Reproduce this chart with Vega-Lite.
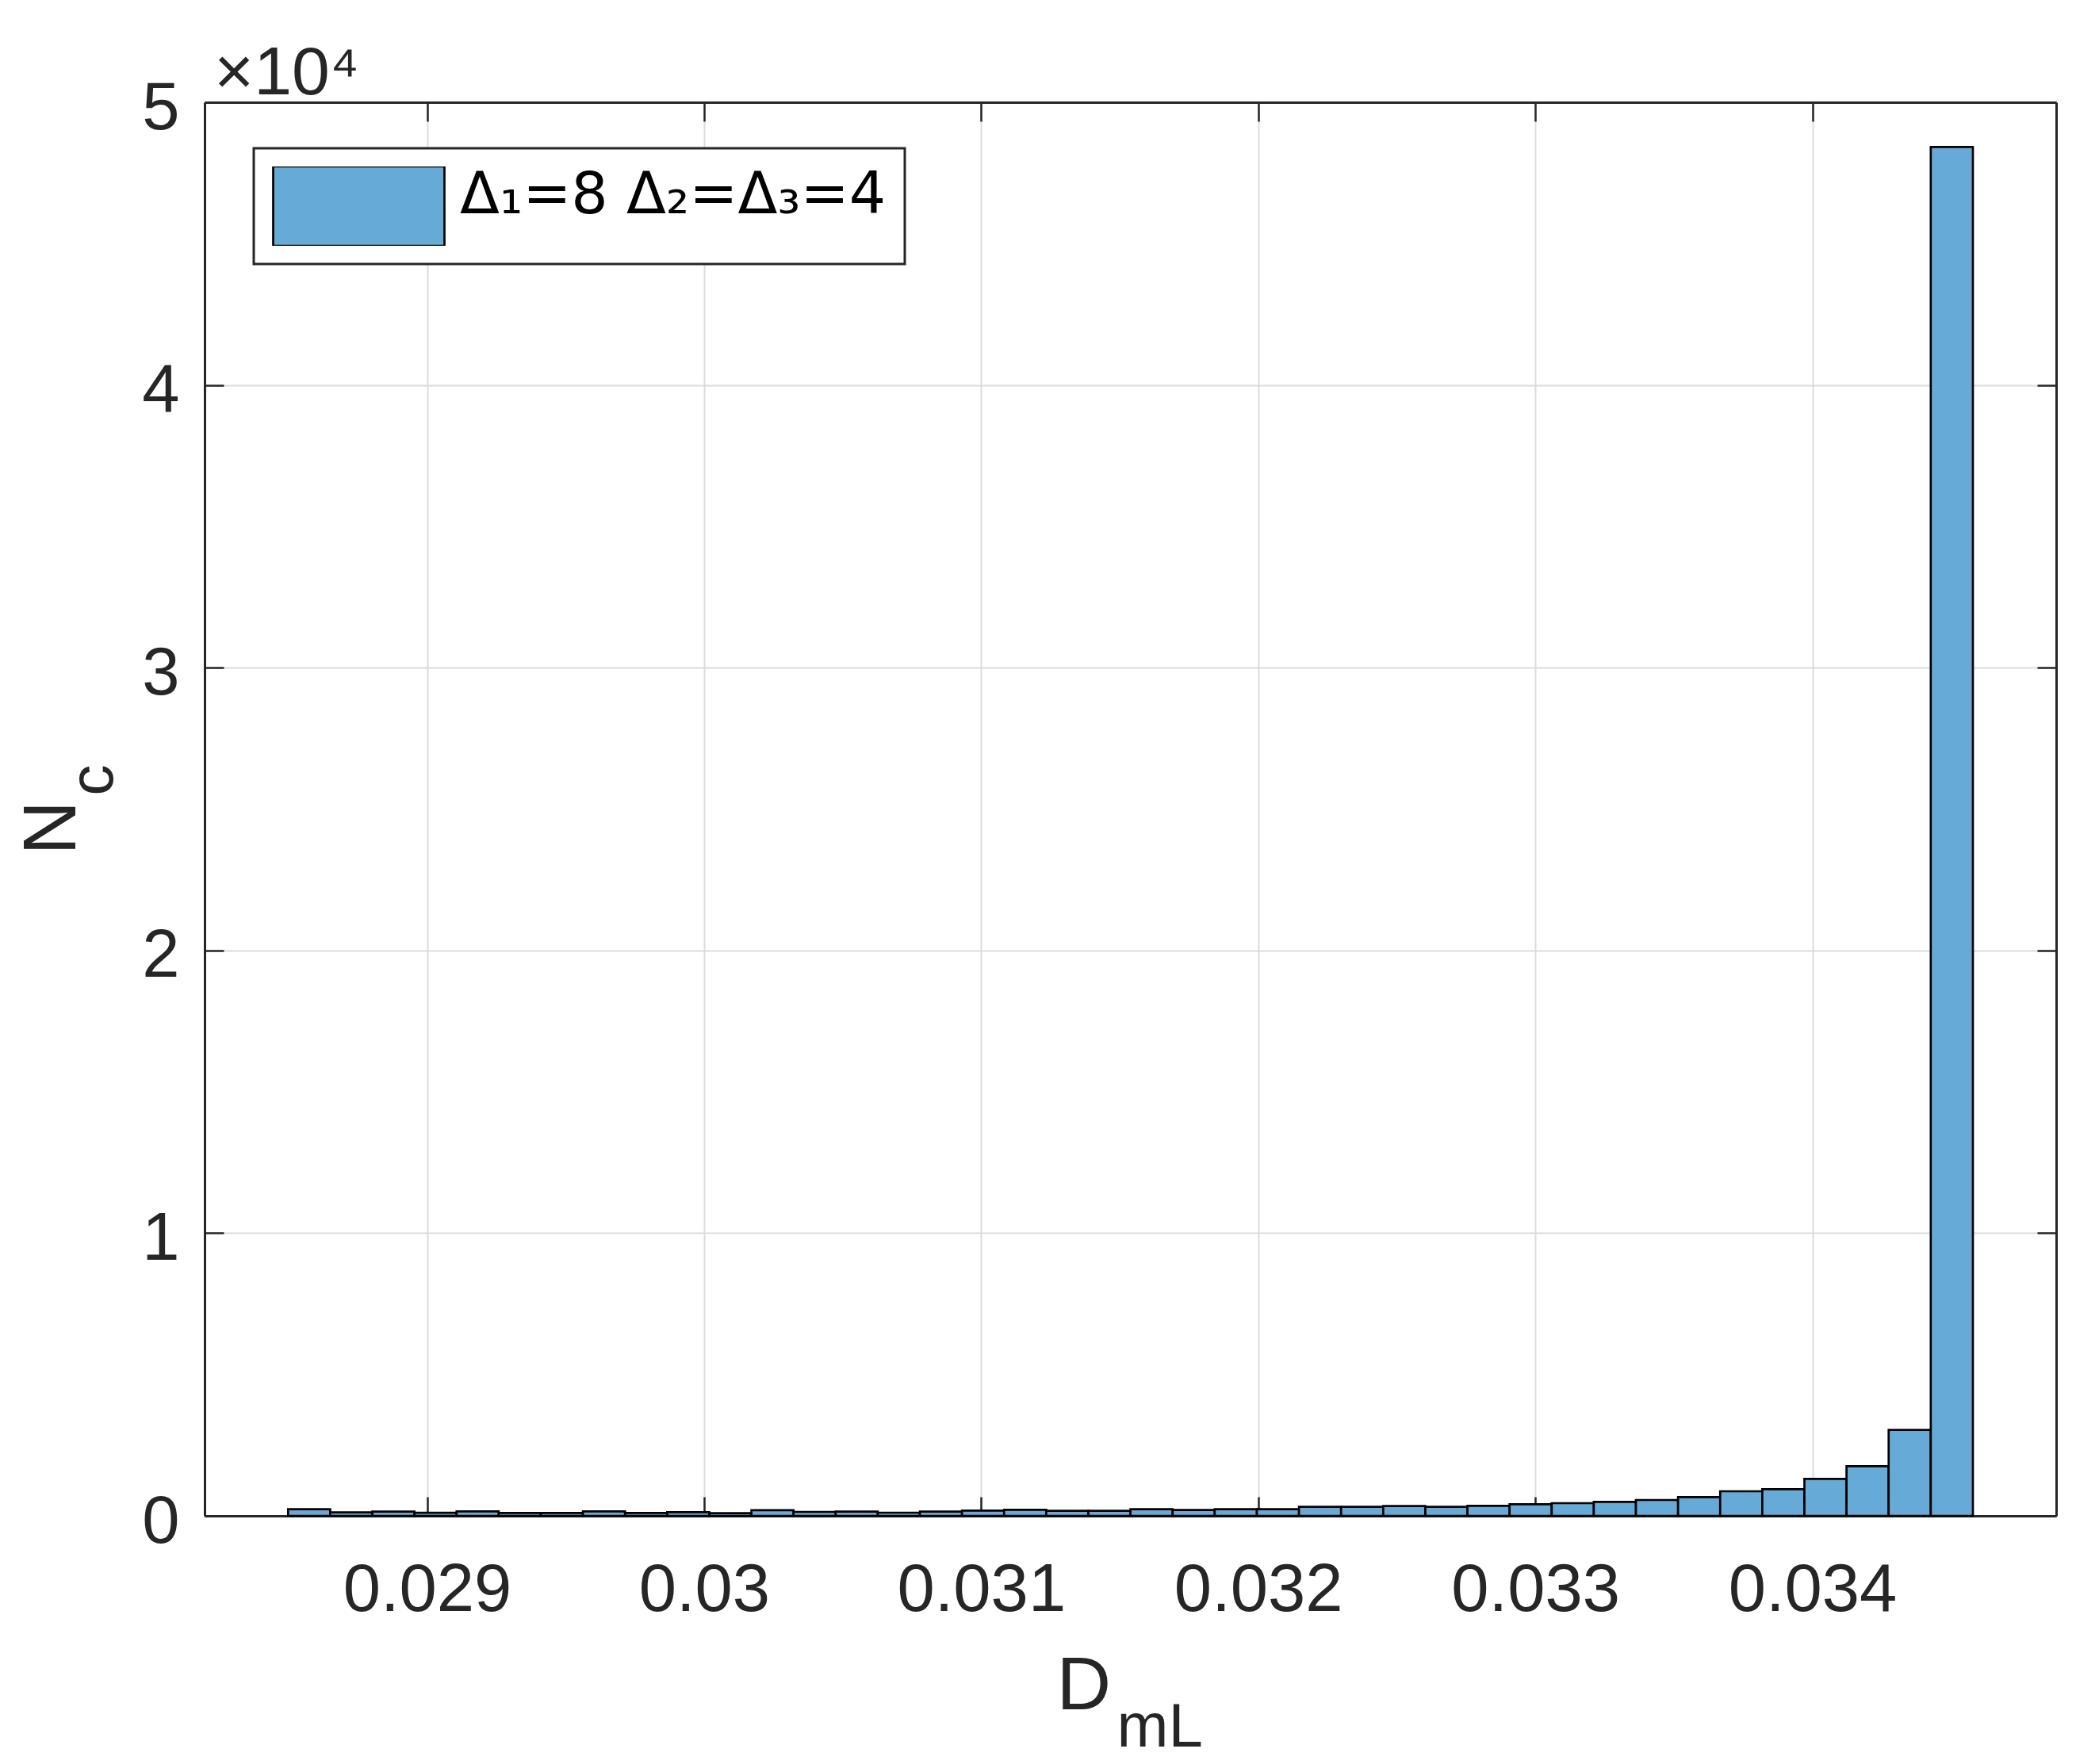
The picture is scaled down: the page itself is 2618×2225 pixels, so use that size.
{
  "$schema": "https://vega.github.io/schema/vega-lite/v6.json",
  "width": 2335,
  "height": 1783,
  "autosize": {"type": "none"},
  "padding": {"left": 258, "top": 129, "right": 25, "bottom": 313},
  "background": "white",
  "title": {"text": "×10⁴", "anchor": "start", "frame": "group", "orient": "top", "font": "Liberation Sans", "fontSize": 86, "fontWeight": "normal", "color": "#262626", "baseline": "alphabetic", "offset": 19, "dx": 12, "dy": 130},
  "config": {"view": {"stroke": null}},
  "data": {"values": [
    {"x0": 0.0284986, "x1": 0.0286506, "count": 233},
    {"x0": 0.0286506, "x1": 0.0288026, "count": 120},
    {"x0": 0.0288026, "x1": 0.0289547, "count": 150},
    {"x0": 0.0289547, "x1": 0.0291067, "count": 110},
    {"x0": 0.0291067, "x1": 0.0292587, "count": 160},
    {"x0": 0.0292587, "x1": 0.0294107, "count": 100},
    {"x0": 0.0294107, "x1": 0.0295627, "count": 100},
    {"x0": 0.0295627, "x1": 0.0297148, "count": 160},
    {"x0": 0.0297148, "x1": 0.0298668, "count": 100},
    {"x0": 0.0298668, "x1": 0.0300188, "count": 130},
    {"x0": 0.0300188, "x1": 0.0301708, "count": 95},
    {"x0": 0.0301708, "x1": 0.0303228, "count": 200},
    {"x0": 0.0303228, "x1": 0.0304749, "count": 140},
    {"x0": 0.0304749, "x1": 0.0306269, "count": 150},
    {"x0": 0.0306269, "x1": 0.0307789, "count": 112},
    {"x0": 0.0307789, "x1": 0.0309309, "count": 150},
    {"x0": 0.0309309, "x1": 0.0310829, "count": 187},
    {"x0": 0.0310829, "x1": 0.031235, "count": 215},
    {"x0": 0.031235, "x1": 0.031387, "count": 178},
    {"x0": 0.031387, "x1": 0.031539, "count": 178},
    {"x0": 0.031539, "x1": 0.031691, "count": 233},
    {"x0": 0.031691, "x1": 0.031843, "count": 206},
    {"x0": 0.031843, "x1": 0.0319951, "count": 233},
    {"x0": 0.0319951, "x1": 0.0321471, "count": 233},
    {"x0": 0.0321471, "x1": 0.0322991, "count": 318},
    {"x0": 0.0322991, "x1": 0.0324511, "count": 318},
    {"x0": 0.0324511, "x1": 0.0326031, "count": 346},
    {"x0": 0.0326031, "x1": 0.0327552, "count": 318},
    {"x0": 0.0327552, "x1": 0.0329072, "count": 355},
    {"x0": 0.0329072, "x1": 0.0330592, "count": 411},
    {"x0": 0.0330592, "x1": 0.0332112, "count": 449},
    {"x0": 0.0332112, "x1": 0.0333632, "count": 495},
    {"x0": 0.0333632, "x1": 0.0335153, "count": 561},
    {"x0": 0.0335153, "x1": 0.0336673, "count": 664},
    {"x0": 0.0336673, "x1": 0.0338193, "count": 869},
    {"x0": 0.0338193, "x1": 0.0339713, "count": 944},
    {"x0": 0.0339713, "x1": 0.0341233, "count": 1309},
    {"x0": 0.0341233, "x1": 0.0342754, "count": 1758},
    {"x0": 0.0342754, "x1": 0.0344274, "count": 3037},
    {"x0": 0.0344274, "x1": 0.0345794, "count": 48420}
  ]},
  "layer": [
    {
      "mark": {"type": "bar", "stroke": "#000000", "strokeWidth": 2.7},
      "encoding": {
        "x": {"field": "x0", "type": "quantitative",
          "scale": {"domain": [0.0281972, 0.03488], "zero": false, "nice": false},
          "axis": {"orient": "bottom", "values": [0.029, 0.03, 0.031, 0.032, 0.033, 0.034], "format": "~g",
            "grid": true, "gridColor": "#dcdcdc", "gridWidth": 2,
            "domainColor": "#262626", "domainWidth": 3, "tickColor": "#262626", "tickWidth": 2.5, "tickSize": -24,
            "labelPadding": 76, "labelFont": "Liberation Sans", "labelFontSize": 85, "labelColor": "#262626",
            "labelFlush": false, "labelOverlap": false, "labelLimit": 1000,
            "title": "D", "titleFont": "Liberation Sans", "titleFontSize": 95, "titleFontWeight": "normal", "titleColor": "#262626",
            "titleX": 1074, "titleY": 243, "titleAlign": "left", "titleBaseline": "alphabetic", "titleAngle": 0}},
        "x2": {"field": "x1"},
        "y": {"field": "count", "type": "quantitative",
          "scale": {"domain": [0, 50000], "nice": false},
          "axis": {"orient": "left", "values": [0, 10000, 20000, 30000, 40000, 50000], "labelExpr": "format(datum.value/10000, 'd')",
            "grid": true, "gridColor": "#dcdcdc", "gridWidth": 2,
            "domainColor": "#262626", "domainWidth": 3, "tickColor": "#262626", "tickWidth": 2.5, "tickSize": -24,
            "labelPadding": 56, "labelOffset": 7, "labelFont": "Liberation Sans", "labelFontSize": 85, "labelColor": "#262626",
            "labelFlush": false, "labelOverlap": false, "labelLimit": 1000,
            "title": "N", "titleFont": "Liberation Sans", "titleFontSize": 95, "titleFontWeight": "normal", "titleColor": "#262626",
            "titleX": -164, "titleY": 949, "titleAlign": "left", "titleBaseline": "alphabetic", "titleAngle": 270}},
        "y2": {"datum": 0},
        "color": {"datum": "Δ₁=8 Δ₂=Δ₃=4", "type": "nominal", "scale": {"range": ["#66aad7"]},
          "legend": {"orient": "none", "legendX": 62, "legendY": 58, "title": null, "padding": 23,
            "strokeColor": "#262626", "fillColor": "#ffffff",
            "symbolType": "M-1,-0.463H1V0.463H-1Z", "symbolSize": 46656, "clipHeight": 100,
            "symbolStrokeColor": "#000000", "symbolStrokeWidth": 2.7, "symbolOpacity": 1, "symbolFillColor": "#66aad7",
            "labelFont": "DejaVu Sans", "labelFontSize": 73, "labelColor": "#000000", "labelOffset": 18, "labelLimit": 1000,
            "encode": {"legend": {"update": {"strokeWidth": {"value": 3}}},
                       "labels": {"update": {"dy": {"value": -13}}}}}}
      }
    },
    {
      "mark": {"type": "point", "opacity": 0},
      "encoding": {
        "x": {"field": "x0", "type": "quantitative",
          "scale": {"domain": [0.0281972, 0.03488], "zero": false, "nice": false},
          "axis": {"orient": "top", "values": [0.029, 0.03, 0.031, 0.032, 0.033, 0.034], "labels": false, "grid": false,
            "domainColor": "#262626", "domainWidth": 3, "tickColor": "#262626", "tickWidth": 2.5, "tickSize": -24,
            "title": "mL", "titleFont": "Liberation Sans", "titleFontSize": 78, "titleFontWeight": "normal", "titleColor": "#262626",
            "titleX": 1150, "titleY": 2073, "titleAlign": "left", "titleBaseline": "alphabetic", "titleAngle": 0}},
        "y": {"field": "count", "type": "quantitative",
          "scale": {"domain": [0, 50000], "nice": false},
          "axis": {"orient": "right", "values": [0, 10000, 20000, 30000, 40000, 50000], "labels": false, "grid": false,
            "domainColor": "#262626", "domainWidth": 3, "tickColor": "#262626", "tickWidth": 2.5, "tickSize": -24,
            "title": "c", "titleFont": "Liberation Sans", "titleFontSize": 78, "titleFontWeight": "normal", "titleColor": "#262626",
            "titleX": -2452, "titleY": 874, "titleAlign": "left", "titleBaseline": "alphabetic", "titleAngle": 270}}
      }
    }
  ],
  "resolve": {"axis": {"x": "independent", "y": "independent"}}
}
